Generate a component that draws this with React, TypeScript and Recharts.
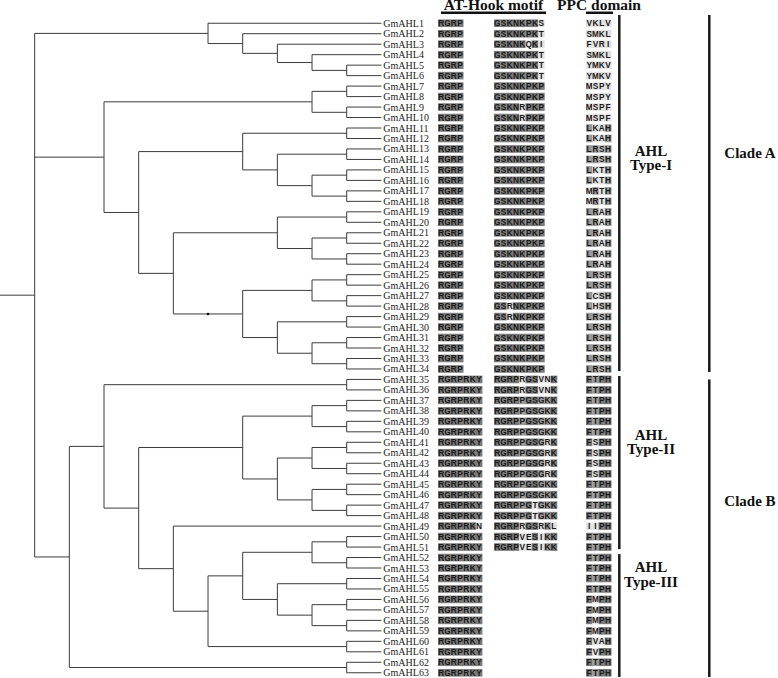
import React from "react";
import { ComposedChart, Scatter, XAxis, YAxis, ReferenceLine, ReferenceDot } from "recharts";

// cladogram topology, leaves are GmAHL numbers (Newick, no branch lengths)
const subAhl1to6 = "(1,(2,(3,(4,(5,6)))))";
const sub11to18 = "((11,12),((13,14),((15,16),(17,18))))";
const sub19to24 = "((19,20),((21,22),(23,24)))";
const sub25to34 = "(((25,26),(27,28)),((29,30),((31,32),(33,34))))";
const subTypeI = `(((7,8),(9,10)),(${sub11to18},(${sub19to24},(${sub25to34}))))`;
const sub37to48 = "(((37,38),(39,40)),(((41,42),(43,44)),((45,46),(47,48))))";
const sub50to59 = "(((50,51),(52,53)),((54,55),((56,57),(58,59))))";
const subCladeB = `(((35,36),(${sub37to48},(49,(${sub50to59},(60,61))))),(62,63))`;
const treeNewick = `(${subAhl1to6},${subTypeI},${subCladeB})`;

// AT-hook core (RGRP...), AT-hook tail, PPC domain motif, indexed by GmAHL number - 1
const hookCore = [
  "RGRP", "RGRP", "RGRP", "RGRP", "RGRP", "RGRP", "RGRP", "RGRP", "RGRP", "RGRP",
  "RGRP", "RGRP", "RGRP", "RGRP", "RGRP", "RGRP", "RGRP", "RGRP", "RGRP", "RGRP",
  "RGRP", "RGRP", "RGRP", "RGRP", "RGRP", "RGRP", "RGRP", "RGRP", "RGRP", "RGRP",
  "RGRP", "RGRP", "RGRP", "RGRP",
  "RGRPRKY", "RGRPRKY", "RGRPRKY", "RGRPRKY", "RGRPRKY", "RGRPRKY", "RGRPRKY",
  "RGRPRKY", "RGRPRKY", "RGRPRKY", "RGRPRKY", "RGRPRKY", "RGRPRKY", "RGRPRKY",
  "RGRPRKN", "RGRPRKY", "RGRPRKY", "RGRPRKY", "RGRPRKY", "RGRPRKY", "RGRPRKY",
  "RGRPRKY", "RGRPRKY", "RGRPRKY", "RGRPRKY", "RGRPRKY", "RGRPRKY", "RGRPRKY",
  "RGRPRKY",
];
const hookTail = [
  "GSKNKPKS", "GSKNKPKT", "GSKNKQKI", "GSKNKPKT", "GSKNKPKT", "GSKNKPKT",
  "GSKNKPKP", "GSKNKPKP", "GSKNRPKP", "GSKNRPKP", "GSKNKPKP", "GSKNKPKP",
  "GSKNKPKP", "GSKNKPKP", "GSKNKPKP", "GSKNKPKP", "GSKNKPKP", "GSKNKPKP",
  "GSKNKPKP", "GSKNKPKP", "GSKNKPKP", "GSKNKPKP", "GSKNKPKP", "GSKNKPKP",
  "GSKNKPKP", "GSKNKPKP", "GSKNKPKP", "GSRNKPKP", "GSRNKPKP", "GSKNKPKP",
  "GSKNKPKP", "GSKNKPKP", "GSKNKPKP", "GSKNKPKP",
  "RGRPRGSVNK", "RGRPRGSVNK", "RGRPPGSGKK", "RGRPPGSGKK", "RGRPPGSGKK",
  "RGRPPGSGKK", "RGRPPGSGRK", "RGRPPGSGRK", "RGRPPGSGRK", "RGRPPGSGRK",
  "RGRPPGSGKK", "RGRPPGSGKK", "RGRPPGTGKK", "RGRPPGTGKK", "RGRPRGSRKL",
  "RGRPVESIKK", "RGRPVESIKK",
  "", "", "", "", "", "", "", "", "", "", "", "",
];
const ppcMotif = [
  "VKLV", "SMKL", "FVRI", "SMKL", "YMKV", "YMKV", "MSPY", "MSPY", "MSPF", "MSPF",
  "LKAH", "LKAH", "LRSH", "LRSH", "LKTH", "LKTH", "MRTH", "MRTH", "LRAH", "LRAH",
  "LRAH", "LRAH", "LRAH", "LRAH", "LRSH", "LRSH", "LCSH", "LHSH", "LRSH", "LRSH",
  "LRSH", "LRSH", "LRSH", "LRSH",
  "FTPH", "FTPH", "FTPH", "FTPH", "FTPH", "FTPH", "FSPH", "FSPH", "FSPH", "FSPH",
  "FTPH", "FTPH", "FTPH", "FTPH", "IIPH", "FTPH", "FTPH", "FTPH", "FTPH", "FTPH",
  "FTPH", "FMPH", "FMPH", "FMPH", "FMPH", "FVAH", "FVPH", "FTPH", "FTPH",
];

const typeGroups = [
  { name: ["AHL", "Type-I"], from: 1, to: 34 },
  { name: ["AHL", "Type-II"], from: 35, to: 51 },
  { name: ["AHL", "Type-III"], from: 52, to: 63 },
];
const cladeGroups = [
  { name: "Clade A", from: 1, to: 34 },
  { name: "Clade B", from: 35, to: 63 },
];

// layout (pixels / rows)
const W = 778;
const H = 678;
const rowDomain: [number, number] = [-1.22, 63.5];
const levelPx = 34.67;
const px = (x: number) => x / levelPx;
const blockX = [438, 494, 586];
const cellW = 6.3;
const typeBarX = 619.3;
const cladeBarX = 709.3;
const typeLabelX = 651;
const cladeLabelX = 750;
const typeLabelRows = [13.67, 40.75, 53.4];
const cladeLabelRows = [13.83, 47.1];
const headerRow = -0.3;
const shades = ["#e2e2e2", "#bdbdbd", "#999999", "#7a7a7a"];

type TreeNode = { leaf?: number; children: TreeNode[] };

const parseNewick = (s: string): TreeNode => {
  let i = 0;
  const read = (): TreeNode => {
    if (s[i] === "(") {
      i++;
      const children = [read()];
      while (s[i] === ",") {
        i++;
        children.push(read());
      }
      i++;
      return { children };
    }
    const j = i;
    while (i < s.length && s[i] >= "0" && s[i] <= "9") i++;
    return { leaf: Number(s.slice(j, i)), children: [] };
  };
  return read();
};

const depth = (n: TreeNode): number =>
  n.children.length ? 1 + Math.max(...n.children.map(depth)) : 0;

const root = parseNewick(treeNewick);
const tipLevel = depth(root) + 1;
const branches: { x1: number; y1: number; x2: number; y2: number }[] = [];
const knots: { x: number; y: number }[] = [];
const tips: { x: number; y: number; gene: number }[] = [];
let rowCount = 0;

const place = (n: TreeNode): { x: number; y: number } => {
  const x = tipLevel - depth(n);
  if (!n.children.length) {
    rowCount++;
    tips.push({ x, y: rowCount, gene: n.leaf as number });
    return { x, y: rowCount };
  }
  const kids = n.children.map(place);
  const y = (kids[0].y + kids[kids.length - 1].y) / 2;
  if (kids.length > 1) branches.push({ x1: x, y1: kids[0].y, x2: x, y2: kids[kids.length - 1].y });
  else knots.push({ x, y });
  kids.forEach((k) => branches.push({ x1: x, y1: k.y, x2: k.x, y2: k.y }));
  return { x, y };
};
const rootPos = place(root);
branches.push({ x1: 0, y1: rootPos.y, x2: rootPos.x, y2: rootPos.y });

// shade each residue by how common it is at that position within its clade
const cladeOf = (gene: number) => cladeGroups.findIndex((g) => gene >= g.from && gene <= g.to);
const shadeFor = (block: string[], gene: number, pos: number) => {
  const c = cladeOf(gene);
  const letter = block[gene - 1][pos];
  let have = 0;
  let same = 0;
  block.forEach((seq, k) => {
    if (cladeOf(k + 1) !== c || seq.length <= pos) return;
    have++;
    if (seq[pos] === letter) same++;
  });
  const f = same / have;
  if (f >= 0.8) return shades[3];
  if (f >= 0.5) return shades[2];
  if (f >= 0.25) return shades[1];
  return shades[0];
};

const blocks = [hookCore, hookTail, ppcMotif];

const LeafRow = (props: any) => {
  const { cx, cy, payload } = props;
  const gene = payload.gene as number;
  return (
    <g>
      <text x={cx + 2} y={cy} dy="0.35em" fontFamily="Liberation Serif" fontSize={10} fill="#222">
        {`GmAHL${gene}`}
      </text>
      {blocks.map((block, b) =>
        block[gene - 1].split("").map((ch, k) => (
          <g key={`${b}-${k}`}>
            <rect
              x={blockX[b] + k * cellW}
              y={cy - 3.8}
              width={cellW + 0.3}
              height={7.6}
              fill={shadeFor(block, gene, k)}
            />
            <text
              x={blockX[b] + (k + 0.5) * cellW}
              y={cy}
              dy="0.36em"
              textAnchor="middle"
              fontFamily="Liberation Sans"
              fontWeight="bold"
              fontSize={8.3}
              fill="#1a1a1a"
            >
              {ch}
            </text>
          </g>
        ))
      )}
    </g>
  );
};

const boldSerif = { fontFamily: "Liberation Serif", fontWeight: "bold" as const, fill: "#111" };

export default function App() {
  return (
    <div style={{ position: "absolute", left: 0, top: 0, background: "#fff" }}>
      <ComposedChart width={W} height={H} margin={{ top: 0, right: 0, bottom: 0, left: 0 }}>
        <XAxis xAxisId="tree" type="number" dataKey="x" domain={[0, W / levelPx]} allowDataOverflow hide />
        <YAxis type="number" dataKey="y" domain={rowDomain} reversed allowDataOverflow hide />

        {branches.map((s, i) => (
          <ReferenceLine
            key={`br${i}`}
            xAxisId="tree"
            ifOverflow="visible"
            segment={[{ x: s.x1, y: s.y1 }, { x: s.x2, y: s.y2 }]}
            stroke="#3c3c3c"
            strokeWidth={1}
          />
        ))}
        {knots.map((k, i) => (
          <ReferenceDot key={`kn${i}`} xAxisId="tree" x={k.x} y={k.y} r={1.3} fill="#000" stroke="none" />
        ))}

        <Scatter xAxisId="tree" data={tips} shape={LeafRow} isAnimationActive={false} />

        {/* column headers */}
        <ReferenceDot
          xAxisId="tree"
          x={px(493.5)}
          y={headerRow}
          r={0}
          ifOverflow="visible"
          shape={(p: any) => (
            <text x={p.cx} y={p.cy} textAnchor="middle" fontSize={15.5} {...boldSerif}>
              AT-Hook motif
            </text>
          )}
        />
        <ReferenceDot
          xAxisId="tree"
          x={px(599)}
          y={headerRow}
          r={0}
          ifOverflow="visible"
          shape={(p: any) => (
            <text x={p.cx} y={p.cy} textAnchor="middle" fontSize={15.5} {...boldSerif}>
              PPC domain
            </text>
          )}
        />
        <ReferenceLine
          xAxisId="tree"
          ifOverflow="visible"
          segment={[{ x: px(441), y: 0 }, { x: px(546), y: 0 }]}
          stroke="#111"
          strokeWidth={2.5}
        />
        <ReferenceLine
          xAxisId="tree"
          ifOverflow="visible"
          segment={[{ x: px(586), y: 0 }, { x: px(613), y: 0 }]}
          stroke="#111"
          strokeWidth={2.5}
        />

        {/* type brackets */}
        {typeGroups.map((g, i) => (
          <ReferenceLine
            key={`tb${i}`}
            xAxisId="tree"
            ifOverflow="visible"
            segment={[
              { x: px(typeBarX), y: i === 0 ? 0.2 : g.from - 0.33 },
              { x: px(typeBarX), y: g.to + (i === typeGroups.length - 1 ? 0.4 : 0.2) },
            ]}
            stroke="#1a1a1a"
            strokeWidth={2.5}
          />
        ))}
        {typeGroups.map((g, i) => (
          <ReferenceDot
            key={`tl${i}`}
            xAxisId="tree"
            x={px(typeLabelX)}
            y={typeLabelRows[i]}
            r={0}
            ifOverflow="visible"
            shape={(p: any) => (
              <text x={p.cx} y={p.cy} textAnchor="middle" fontSize={15} {...boldSerif}>
                <tspan x={p.cx}>{g.name[0]}</tspan>
                <tspan x={p.cx} dy={14.5}>{g.name[1]}</tspan>
              </text>
            )}
          />
        ))}

        {/* clade brackets */}
        {cladeGroups.map((g, i) => (
          <ReferenceLine
            key={`cb${i}`}
            xAxisId="tree"
            ifOverflow="visible"
            segment={[
              { x: px(cladeBarX), y: i === 0 ? 0.2 : g.from },
              { x: px(cladeBarX), y: g.to + (i === cladeGroups.length - 1 ? 0.4 : 0.28) },
            ]}
            stroke="#1a1a1a"
            strokeWidth={2.5}
          />
        ))}
        {cladeGroups.map((g, i) => (
          <ReferenceDot
            key={`cl${i}`}
            xAxisId="tree"
            x={px(cladeLabelX)}
            y={cladeLabelRows[i]}
            r={0}
            ifOverflow="visible"
            shape={(p: any) => (
              <text x={p.cx} y={p.cy} textAnchor="middle" fontSize={15} {...boldSerif}>
                {g.name}
              </text>
            )}
          />
        ))}
      </ComposedChart>
    </div>
  );
}
